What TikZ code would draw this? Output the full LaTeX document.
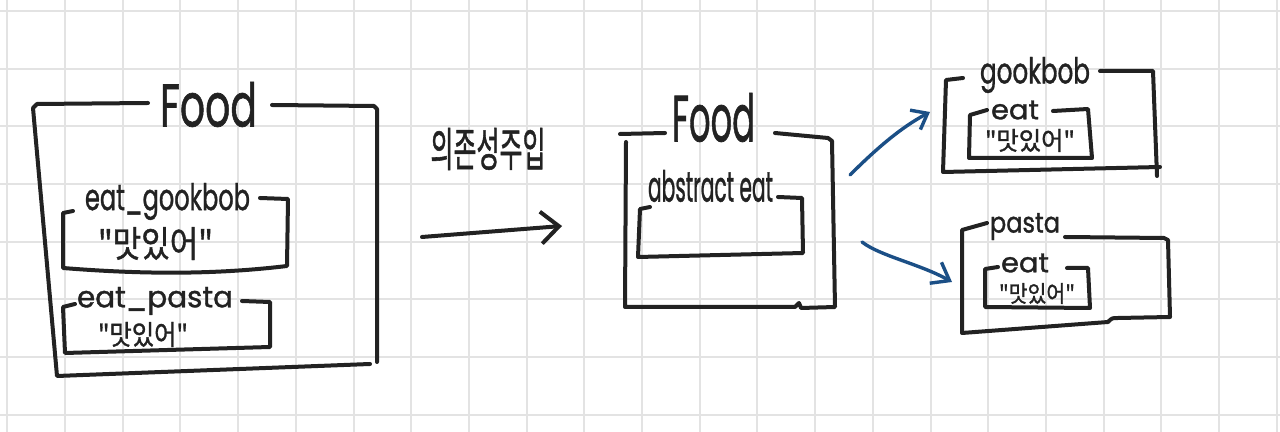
\documentclass[tikz,border=0pt]{standalone}
\usepackage{fontspec}
\setmainfont[FakeBold=1.2]{Poppins}
\newfontfamily\kr[FakeBold=1.2]{Noto Sans CJK KR}
\usetikzlibrary{arrows.meta}
\newlength\pxu \setlength\pxu{0.5pt}
\newcommand{\fitt}[3]{\resizebox*{#1\pxu}{#2\pxu}{#3}}
\definecolor{ink}{HTML}{222222}
\definecolor{pen}{HTML}{1B4F86}
\definecolor{gridc}{HTML}{E3E3E3}
\begin{document}
\begin{tikzpicture}[x=0.5pt,y=-0.5pt,
  inkline/.style={draw=ink, line width=2pt, line cap=round, line join=round},
  penline/.style={draw=pen, line width=1.7pt, line cap=round, line join=round},
  lbl/.style={inner sep=0pt, text=ink}]
\fill[white] (0,0) rectangle (1280,432);
\useasboundingbox (0,0) rectangle (1280,432);
% grid
\foreach \i in {0,...,22} \draw[gridc, line width=1pt] ({7.3+57.7*\i},0) -- ++(0,432);
\foreach \j in {0,...,7} \draw[gridc, line width=1pt] (0,{11+57.7*\j}) -- ++(1280,0);

% ---------- left Food box ----------
\draw[inkline] (148,103) -- (37,104) -- (33,108) -- (57,376) -- (370,364);
\draw[inkline] (272,105) -- (374,106) -- (377,109) -- (377,362);
\node[lbl] (food1) at (208.5,104.5) {\fitt{97}{45}{Food}};
% eat_gookbob box
\draw[inkline] (73,211) -- (63,213) -- (63,268) .. controls (150,275) and (220,274) .. (287,266) -- (288,199) -- (260,198);
\node[lbl] (eg) at (167.5,201.5) {\fitt{165}{37}{eat\_gookbob}};
\node[lbl] (eg1) at (155.5,243.5) {\fitt{115}{33}{\kr "맛있어"}};
% eat_pasta box
\draw[inkline] (75,304) -- (63,307) -- (65,353) -- (270,347) -- (270,302) -- (242,301);
\node[lbl] (ep) at (155,301) {\fitt{156}{28}{eat\_pasta}};
\node[lbl] (ep1) at (143,334.5) {\fitt{90}{25}{\kr "맛있어"}};

% ---------- DI arrow ----------
\node[lbl] (di) at (488,149) {\fitt{115}{42}{\kr 의존성주입}};
\coordinate (diA) at (422,237);
\coordinate (diB) at (562,226);
\draw[inkline, -{Straight Barb[length=9pt,width=16pt]}] (diA) -- (diB);

% ---------- middle Food box ----------
\draw[inkline] (665,133) -- (620,134);
\draw[inkline] (626,142) -- (625,307) -- (795,307) -- (799,303) -- (801,308) -- (835,307) -- (832,141) -- (828,138) -- (775,133);
\node[lbl] (food2) at (713.5,117.5) {\fitt{83}{49}{Food}};
\draw[inkline] (650,207) -- (640,209) -- (638,257) -- (803,253) -- (802,198) -- (778,197);
\node[lbl] (ae) at (710.5,186) {\fitt{125}{32}{abstract eat}};

% ---------- gookbob box ----------
\draw[inkline] (963,78) -- (946,80) -- (943,172) -- (1160,167);
\draw[inkline] (1100,71) -- (1153,71) -- (1157,176);
\node[lbl] (gk) at (1035,75) {\fitt{110}{36}{gookbob}};
\draw[inkline] (987,110) -- (970,115) -- (969,158) -- (1092,158) -- (1088,109) -- (1053,111);
\node[lbl] (gke) at (1015,110) {\fitt{48}{19}{eat}};
\node[lbl] (gk1) at (1030,140.5) {\fitt{90}{23}{\kr "맛있어"}};

% ---------- pasta box ----------
\draw[inkline] (987,223) -- (962,230) -- (962,333) -- (1108,322) .. controls (1112,318) .. (1118,318) -- (1170,317) -- (1168,240) -- (1164,238) -- (1065,237);
\node[lbl] (ps) at (1025,226.5) {\fitt{70}{27}{pasta}};
\draw[inkline] (998,267) -- (985,269) -- (985,307) -- (1090,308) -- (1088,268) -- (1067,268);
\node[lbl] (pse) at (1025,263) {\fitt{48}{19}{eat}};
\node[lbl] (ps1) at (1037,293.5) {\fitt{76}{21}{\kr "맛있어"}};

% ---------- blue arrows ----------
\coordinate (bA) at (850,175);
\coordinate (bB) at (930,112);
\coordinate (bC) at (862,242);
\coordinate (bD) at (952,282);
\draw[penline, -{Straight Barb[length=7pt,width=11pt]}] (bA) .. controls (875,150) and (900,128) .. (bB);
\draw[penline, -{Straight Barb[length=8pt,width=12pt]}] (bC) .. controls (880,256) and (920,264) .. (bD);
\end{tikzpicture}
\end{document}
